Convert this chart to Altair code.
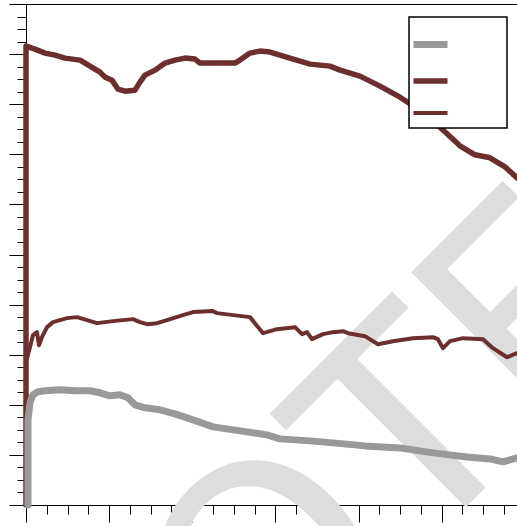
import altair as alt
import pandas as pd

# ---- data -------------------------------------------------------------
names = ["Series 1", "Series 2", "Series 3"]
colors = ["#999999", "#6b2f2f", "#6b2f2f"]
widths = [7, 4, 2]

# grey, thick
s1_x = [0.024, 0.024, 0.048, 0.084, 0.144, 0.229, 0.409, 0.589, 0.770, 0.890,
        1.010, 1.131, 1.227, 1.311, 1.431, 1.612, 1.792, 2.009, 2.249, 2.658,
        2.899, 3.055, 3.416, 3.693, 4.077, 4.498, 4.895, 5.304, 5.581, 5.737, 5.906]
s1_y = [0.00, 1.70, 2.04, 2.20, 2.26, 2.28, 2.30, 2.28, 2.28, 2.24,
        2.18, 2.20, 2.14, 2.00, 1.94, 1.90, 1.82, 1.70, 1.56, 1.46,
        1.40, 1.32, 1.28, 1.24, 1.18, 1.14, 1.04, 0.96, 0.92, 0.86, 0.94]

# dark red, thick
s2_x = [0.000, 0.000, 0.108, 0.229, 0.349, 0.469, 0.650, 0.770, 0.890, 0.950,
        1.034, 1.107, 1.191, 1.311, 1.371, 1.431, 1.552, 1.672, 1.792, 1.912,
        2.033, 2.093, 2.273, 2.514, 2.574, 2.694, 2.815, 2.935, 3.055, 3.175,
        3.296, 3.416, 3.536, 3.656, 3.777, 4.017, 4.258, 4.498, 4.739, 4.980,
        5.220, 5.400, 5.581, 5.761, 5.906]
s2_y = [0.00, 9.16, 9.10, 9.02, 8.98, 8.92, 8.88, 8.76, 8.64, 8.54,
        8.48, 8.30, 8.26, 8.28, 8.44, 8.58, 8.68, 8.82, 8.88, 8.92,
        8.90, 8.82, 8.82, 8.82, 8.88, 9.02, 9.06, 9.04, 8.98, 8.92,
        8.86, 8.80, 8.78, 8.76, 8.68, 8.56, 8.36, 8.14, 7.88, 7.54,
        7.17, 6.99, 6.93, 6.75, 6.53]

# dark red, thin
s3_x = [0.012, 0.048, 0.084, 0.132, 0.156, 0.192, 0.253, 0.325, 0.493, 0.613,
        0.734, 0.854, 1.046, 1.287, 1.371, 1.455, 1.576, 1.696, 1.888, 2.009,
        2.249, 2.297, 2.694, 2.851, 3.019, 3.236, 3.320, 3.380, 3.440, 3.572,
        3.693, 3.813, 3.873, 4.077, 4.234, 4.414, 4.655, 4.895, 4.955, 5.016,
        5.100, 5.256, 5.497, 5.617, 5.785, 5.906]
s3_y = [2.93, 3.15, 3.39, 3.45, 3.19, 3.35, 3.55, 3.65, 3.73, 3.75,
        3.69, 3.63, 3.67, 3.71, 3.65, 3.61, 3.63, 3.69, 3.79, 3.85,
        3.87, 3.83, 3.75, 3.43, 3.51, 3.55, 3.41, 3.45, 3.31, 3.41,
        3.45, 3.47, 3.43, 3.37, 3.21, 3.27, 3.33, 3.35, 3.31, 3.13,
        3.27, 3.33, 3.31, 3.13, 2.95, 3.03]

x_ticks = [i * 0.25 for i in range(0, 24)]
y_ticks = [i * 0.25 for i in range(0, 41)]
X_MAX = 5.906
Y_MAX = 10.0

watermark = ["NOTE"]

# ---- table ------------------------------------------------------------
rows = []
for name, xs, ys in zip(names, [s1_x, s2_x, s3_x], [s1_y, s2_y, s3_y]):
    for i, (xv, yv) in enumerate(zip(xs, ys)):
        rows.append({"series": name, "i": i, "x": xv, "y": yv})
df = pd.DataFrame(rows)

# ---- scales / axes ----------------------------------------------------
x_scale = alt.Scale(domain=[0, X_MAX], nice=False, zero=False)
y_scale = alt.Scale(domain=[0, Y_MAX], nice=False, zero=False)
tick_len = {"condition": {"test": "datum.value % 1 === 0", "value": 17}, "value": 9}

x_axis_bottom = alt.Axis(values=x_ticks, labels=False, title=None, grid=False,
                         tickSize=tick_len, orient="bottom")
x_axis_top = alt.Axis(labels=False, ticks=False, title=None, grid=False, orient="top")
y_axis_left = alt.Axis(values=y_ticks, labels=False, title=None, grid=False,
                       tickSize=tick_len, orient="left")

legend_opts = dict(orient="none", legendX=383, legendY=13, title=None,
                   symbolType="stroke", symbolSize=1156, symbolOffset=-6,
                   labelExpr="''", labelOffset=49, padding=7, rowPadding=2,
                   strokeColor="black", fillColor="white")

color = alt.Color("series:N", scale=alt.Scale(domain=names, range=colors),
                  legend=alt.Legend(**legend_opts))
stroke_w = alt.StrokeWidth("series:N", scale=alt.Scale(domain=names, range=widths),
                           legend=alt.Legend(**legend_opts))

base = alt.Chart(df).mark_line(strokeCap="round", strokeJoin="round")


def series_layer(name, xaxis, yaxis):
    return base.transform_filter(alt.datum.series == name).encode(
        x=alt.X("x:Q", scale=x_scale, axis=xaxis),
        y=alt.Y("y:Q", scale=y_scale, axis=yaxis),
        color=color,
        strokeWidth=stroke_w,
        order="i:Q",
    )


# large diagonal watermark behind the data
mark_text = alt.Chart(pd.DataFrame({"t": watermark})).mark_text(
    angle=315, fontSize=281, font="DejaVu Sans", color="#dddddd",
    align="left", baseline="alphabetic"
).encode(text="t:N", x=alt.value(84), y=alt.value(859))

chart = alt.layer(
    mark_text,
    series_layer("Series 2", x_axis_bottom, y_axis_left),
    series_layer("Series 3", x_axis_top, None),
    series_layer("Series 1", None, None),
).resolve_axis(x="independent", y="independent").properties(
    width=491, height=501,
    padding={"left": 26, "top": 4, "right": 0, "bottom": 21},
    autosize=alt.AutoSizeParams(type="none"),
).configure_view(stroke=None).configure_axis(
    domainColor="black", tickColor="black", domainWidth=1, tickWidth=1
).configure_legend(strokeWidth=1.5)

chart.save("out.html", embed_options={"renderer": "svg", "actions": False})
